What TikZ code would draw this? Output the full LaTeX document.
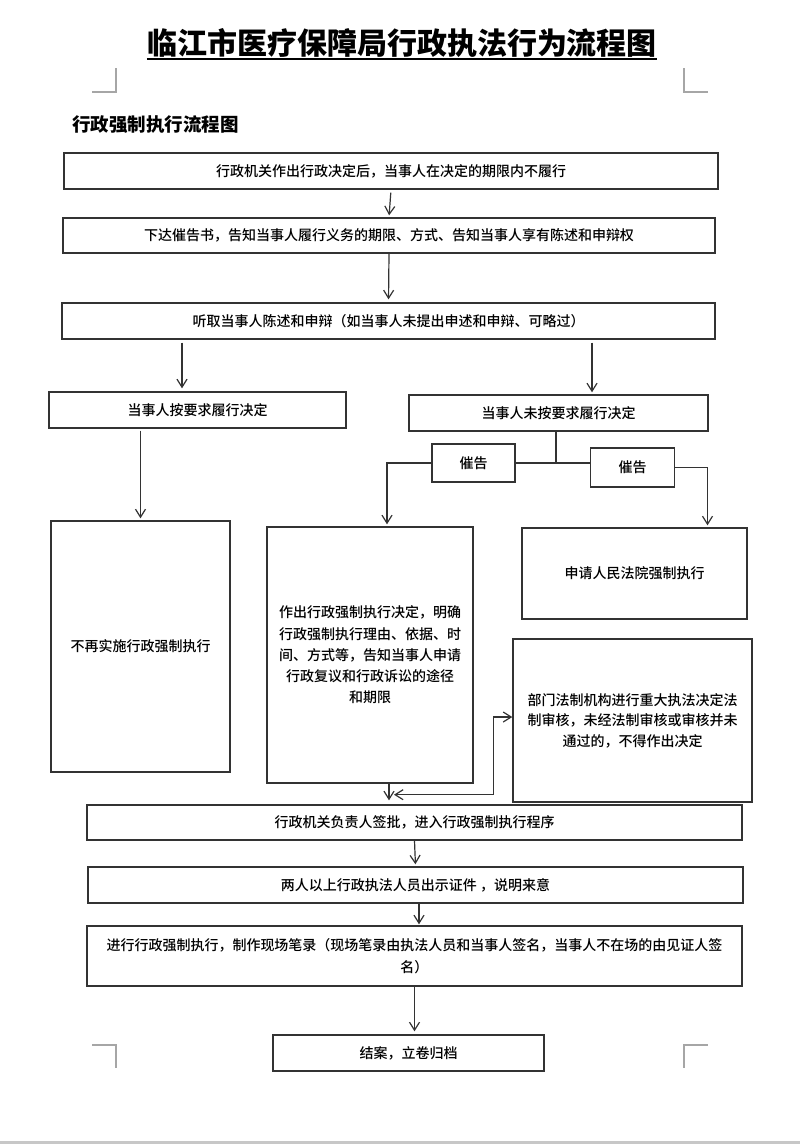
\documentclass[tikz,border=0pt]{standalone}
\usepackage{fontspec}
\setmainfont{Noto Sans CJK SC}
\newfontfamily\medfont{Noto Sans CJK SC Medium}
\usetikzlibrary{arrows.meta}

\begin{document}
\begin{tikzpicture}[x=1pt,y=-1pt,
  box/.style={draw=black!80,line width=1.4pt,inner sep=0pt,align=center,
    font=\medfont\fontsize{14}{21.3}\selectfont},
  arr/.style={draw=black!80,line width=1.2pt,-{Straight Barb[length=8pt,width=10pt]}},
  arrtwo/.style={draw=black!80,line width=1.2pt,
    {Straight Barb[length=8pt,width=10pt]}-{Straight Barb[length=8pt,width=10pt]}},
  link/.style={draw=black!80,line width=1.2pt},
  cropmark/.style={draw=black!35,line width=1.2pt}]

  \useasboundingbox (0,0) rectangle (800,1144);
  \fill[black!22] (0,1141) rectangle (800,1144);

  \node (title) at (402,54) [anchor=base,inner sep=0pt,font=\fontsize{30}{30}\selectfont\bfseries] {临江市医疗保障局行政执法行为流程图};
  \draw[line width=1.6pt] ([yshift=-5pt]title.base west) -- ([yshift=-5pt]title.base east);
  \node (sub) at (72,131) [anchor=base west,inner sep=0pt,font=\fontsize{18.5}{18.5}\selectfont\bfseries] {行政强制执行流程图};

  \draw[cropmark] (92,92) -- (116,92) -- (116,68);
  \draw[cropmark] (708,92) -- (684,92) -- (684,68);
  \draw[cropmark] (92,1045) -- (116,1045) -- (116,1068);
  \draw[cropmark] (708,1045) -- (684,1045) -- (684,1068);

  \node (b1) at (391,171) [box,minimum width=654pt,minimum height=36pt] {行政机关作出行政决定后，当事人在决定的期限内不履行};
  \node (b2) at (389,235.5) [box,minimum width=652pt,minimum height=35pt] {下达催告书，告知当事人履行义务的期限、方式、告知当事人享有陈述和申辩权};
  \node (b3) at (388.5,321) [box,minimum width=653pt,minimum height=36pt] {听取当事人陈述和申辩（如当事人未提出申述和申辩、可略过）};
  \node (b4) at (197.5,410) [box,minimum width=297pt,minimum height=36pt] {当事人按要求履行决定};
  \node (b5) at (558.5,413) [box,minimum width=299pt,minimum height=36pt] {当事人未按要求履行决定};
  \node (c1) at (473.5,463) [box,minimum width=83pt,minimum height=38pt] {催告};
  \node (c2) at (632.5,467.5) [box,minimum width=84pt,minimum height=39pt] {催告};
  \node (b6) at (140.5,646.5) [box,minimum width=179pt,minimum height=251pt] {不再实施行政强制执行};
  \node (b7) at (370,655) [box,minimum width=206pt,minimum height=256pt] {作出行政强制执行决定，明确\\行政强制执行理由、依据、时\\间、方式等，告知当事人申请\\行政复议和行政诉讼的途径\\和期限};
  \node (b8) at (634.5,573.5) [box,minimum width=225pt,minimum height=91pt] {申请人民法院强制执行};
  \node (b9) at (632.5,720.5) [box,minimum width=239pt,minimum height=163pt,font=\medfont\fontsize{14}{20.5}\selectfont] {部门法制机构进行重大执法决定法\\制审核，未经法制审核或审核并未\\通过的，不得作出决定};
  \node (b10) at (414.5,822.5) [box,minimum width=655pt,minimum height=35pt] {行政机关负责人签批，进入行政强制执行程序};
  \node (b11) at (415.5,885) [box,minimum width=655pt,minimum height=36pt] {两人以上行政执法人员出示证件 ，说明来意};
  \node (b12) at (414.5,956) [box,minimum width=655pt,minimum height=60pt,font=\medfont\fontsize{14}{22}\selectfont] {进行行政强制执行，制作现场笔录（现场笔录由执法人员和当事人签名，当事人不在场的由见证人签\\名）};
  \node (b13) at (408.5,1053) [box,minimum width=271pt,minimum height=36pt] {结案，立卷归档};

  \coordinate (j) at ([xshift=19pt,yshift=-11pt]b7.south);

  \draw[arr,shorten <=3pt,shorten >=2pt] (b1.south) -- (b2.north);
  \draw[arr,shorten >=3pt] (b2.south) -- (b3.north);
  \draw[arr,shorten <=3pt,shorten >=3pt] ([xshift=-15.5pt]b4.north |- b3.south) -- ([xshift=-15.5pt]b4.north);
  \draw[arr,shorten <=3pt,shorten >=2pt] ([xshift=33.5pt]b5.north |- b3.south) -- ([xshift=33.5pt]b5.north);
  \draw[arr,shorten <=2pt,shorten >=2pt] (b4.south -| b6.north) -- (b6.north);
  \draw[link] ([xshift=-2.5pt]b5.south) -- ([xshift=-2.5pt]b5.south |- c1.east);
  \draw[link] (c1.east) -- (c1.east -| c2.west);
  \draw[arr,shorten >=2pt] (c1.west) -| ([xshift=17pt]b7.north);
  \draw[arr,shorten >=2pt] (c2.east) -| ([xshift=73pt]b8.north);
  \draw[arr,shorten >=4pt] ([xshift=19pt]b7.south) -- ([xshift=19pt]b7.south |- b10.north);
  \draw[arrtwo,shorten <=5pt] (j) -| ([xshift=-19pt,yshift=3.5pt]b9.west) -- ([yshift=3.5pt]b9.west);
  \draw[arr,shorten >=2pt] (b10.south) -- (b11.north);
  \draw[arr,shorten >=1pt] ([xshift=3.5pt]b11.south) -- ([xshift=3.5pt]b11.south |- b12.north);
  \draw[arr,shorten >=3pt] (b12.south) -- (b12.south |- b13.north);

\end{tikzpicture}
\end{document}
